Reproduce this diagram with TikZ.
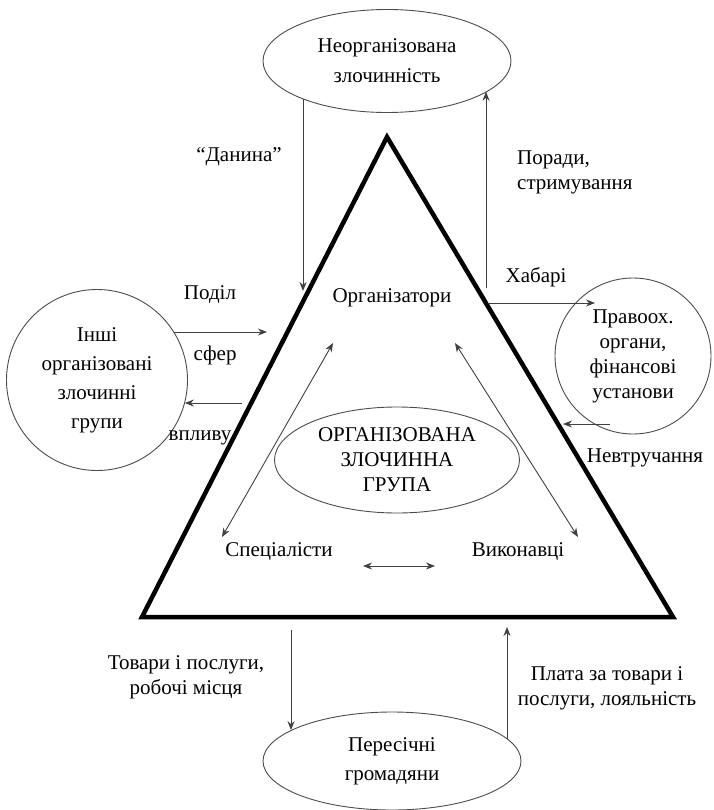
\documentclass[tikz,border=0pt]{standalone}
\usepackage{fontspec}
\setmainfont{Liberation Serif}
\usepackage{tikz}
\usetikzlibrary{shapes,arrows.meta,positioning,calc}
\tikzstyle{oval} = [ellipse, draw=black!70, line width=0.9pt, align=center, inner sep=0pt]
\tikzstyle{group} = [circle, draw=black!70, line width=0.9pt, align=center, inner sep=0pt]
\tikzstyle{lbl} = [align=center, inner sep=0pt]
\tikzstyle{arrow} = [draw=black!75, line width=0.9pt, -{Stealth[length=9pt,width=7pt]}]
\tikzstyle{both} = [draw=black!75, line width=0.9pt, {Stealth[length=9pt,width=7pt]}-{Stealth[length=9pt,width=7pt]}]

\begin{document}
\begin{tikzpicture}[x=1pt, y=-1pt, every node/.style={font=\fontsize{21}{25}\selectfont}]
\useasboundingbox (0,0) rectangle (713,810);

% Трикутник
\coordinate (apex) at (387,137);
\coordinate (bl) at (142,617);
\coordinate (br) at (673,617);
\draw [line width=4.5pt, line join=miter] (apex) -- (bl) -- (br) -- cycle;

% Вузли
\node (unorg) [oval, minimum width=248pt, minimum height=103pt, font=\fontsize{21}{30}\selectfont] at (387,61) {Неорганізована\\злочинність};
\node (othergroups) [group, minimum size=181pt, font=\fontsize{21}{29}\selectfont] at (97,380) {Інші\\організовані\\злочинні\\групи};
\node (lawenf) [group, minimum size=156pt] at (633,356) {Правоох.\\органи,\\фінансові\\установи};
\node (ocg) [oval, minimum width=245pt, minimum height=106pt] at (397,460) {ОРГАНІЗОВАНА\\ЗЛОЧИННА\\ГРУПА};
\node (citizens) [oval, minimum width=258pt, minimum height=98pt, font=\fontsize{21}{29}\selectfont] at (392,761) {Пересічні\\громадяни};

\node (organizers) at (392,298) {Організатори};
\node (specialists) at (279,552) {Спеціалісти};
\node (executors) at (518,552) {Виконавці};

% Зв'язки
\coordinate (danend) at (303,291);
\coordinate (porstart) at (486,288);
\coordinate (khabstart) at (488,303);
\coordinate (nevend) at (563,424);
\coordinate (podend) at (267,332);
\coordinate (vplstart) at (242,403);
\coordinate (tovstart) at (291,630);
\coordinate (platend) at (507,627);

\draw [arrow] (unorg.204 -| danend) -- (danend);
\draw [arrow] (porstart) -- (porstart |- unorg.343);
\draw [arrow] (khabstart) -- ($(lawenf.center)+(-38,-53)$);
\draw [arrow] ($(lawenf.center)+(-23,68)$) -- (nevend);
\draw [arrow] (othergroups.32 |- podend) -- (podend);
\draw [arrow] (vplstart) -- (othergroups.-15 |- vplstart);
\draw [arrow] (tovstart) -- (tovstart |- citizens.163);
\draw [arrow] (platend |- citizens.11) -- (platend);

\draw [both] ($(organizers)+(-59,45)$) -- ($(specialists)+(-57,-15)$);
\draw [both] ($(organizers)+(63,45)$) -- ($(executors)+(60,-15)$);
\draw [both] ($(specialists)+(84,14)$) -- ($(executors)+(-83,14)$);

% Підписи зв'язків
\node (danina) [lbl] at (239,157) {“Данина”};
\node (porady) [lbl, align=left, anchor=west] at (517,172) {Поради,\\стримування};
\node (khabari) [lbl] at (536,277) {Хабарі};
\node (nevtr) [lbl] at (645,458) {Невтручання};
\node (podil) [lbl] at (210,295) {Поділ};
\node (sfer) [lbl] at (215,355) {сфер};
\node (vplyv) [lbl] at (200,438) {впливу};
\node (tovary) [lbl] at (186,677) {Товари і послуги,\\робочі місця};
\node (plata) [lbl] at (607,688) {Плата за товари і\\послуги, лояльність};

\end{tikzpicture}
\end{document}
